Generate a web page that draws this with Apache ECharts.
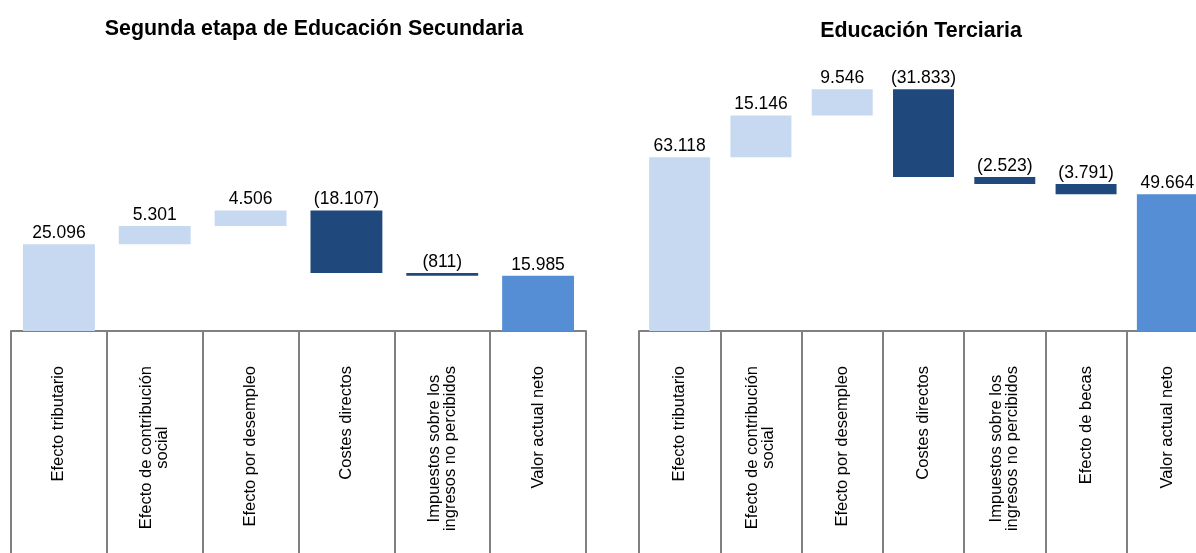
<!DOCTYPE html>
<html>
<head>
<meta charset="utf-8">
<title>Valor actual neto</title>
<script src="https://cdn.jsdelivr.net/npm/echarts@6/dist/echarts.min.js"></script>
<style>
	html, body { margin: 0; padding: 0; background: #fff; }
	#main { width: 1196px; height: 553px; }
</style>
</head>
<body>
<div id="main"></div>
<script>
var fontName = "'Liberation Sans', Arial, sans-serif";
var gray = '#808080';
var lightBlue = '#C6D9F0'; // aportaciones positivas
var darkBlue = '#1F497D'; // costes
var midBlue = '#558ED5'; // valor actual neto

// Segunda etapa de Educación Secundaria
var secCategories = ['Efecto tributario', 'Efecto de contribución\nsocial', 'Efecto por desempleo',
	'Costes directos', 'Impuestos sobre los\ningresos no percibidos', 'Valor actual neto'];
var secValues = [25096, 5301, 4506, -18107, -811, 15985];

// Educación Terciaria
var terCategories = ['Efecto tributario', 'Efecto de contribución\nsocial', 'Efecto por desempleo',
	'Costes directos', 'Impuestos sobre los\ningresos no percibidos', 'Efecto de becas', 'Valor actual neto'];
var terValues = [63118, 15146, 9546, -31833, -2523, -3791, 49664];

// 25096 -> "25.096", -811 -> "(811)"
function fmt(v) {
	var s = String(Math.abs(v)).replace(/\B(?=(\d{3})+(?!\d))/g, '.');
	return v < 0 ? '(' + s + ')' : s;
}

// serie invisible de base + serie visible (cascada)
function waterfall(values) {
	var base = [];
	var bars = [];
	var acc = 0;
	for(var i = 0; i < values.length; i++) {
		var v = values[i] / 1000;
		var last = i == values.length - 1;
		var color = last ? midBlue : (v < 0 ? darkBlue : lightBlue);
		if(i == 0 || last) {
			base.push(0);
			acc = v;
		} else {
			base.push(v < 0 ? acc + v : acc);
			acc += v;
		}
		bars.push({ value: Math.abs(v), raw: values[i], itemStyle: { color: color } });
	}
	return { base: base, bars: bars };
}

var sec = waterfall(secValues);
var ter = waterfall(terValues);

function catAxis(gridIndex, data) {
	return {
		type: 'category',
		gridIndex: gridIndex,
		data: data,
		axisLine: { lineStyle: { color: gray, width: 2 } },
		axisTick: { show: true, interval: 0, length: 230, lineStyle: { color: gray, width: 2 } },
		axisLabel: {
			interval: 0,
			rotate: 90,
			margin: 35,
			color: '#000',
			fontFamily: fontName,
			fontSize: 16.5,
			formatter: function(value) {
				return value.split('\n').map(function(l) { return '{c|' + l + '}'; }).join('\n');
			},
			rich: {
				c: { align: 'center', fontSize: 16.5, lineHeight: 16, fontFamily: fontName, color: '#000' }
			}
		}
	};
}

function barSeries(idx, wf) {
	return [{
		type: 'bar',
		xAxisIndex: idx,
		yAxisIndex: idx,
		stack: 's' + idx,
		barWidth: '75%',
		silent: true,
		itemStyle: { color: 'transparent' },
		data: wf.base
	}, {
		type: 'bar',
		xAxisIndex: idx,
		yAxisIndex: idx,
		stack: 's' + idx,
		barWidth: '75%',
		label: {
			show: true,
			position: 'top',
			distance: 2,
			color: '#000',
			fontFamily: fontName,
			fontSize: 17.5,
			formatter: function(p) { return fmt(p.data.raw); }
		},
		data: wf.bars
	}];
}

var option = {
	animation: false,
	title: [{
		text: 'Segunda etapa de Educación Secundaria',
		left: 309,
		top: 14,
		textAlign: 'center',
		textStyle: { fontFamily: fontName, fontSize: 21.4, fontWeight: 'bold', color: '#000' }
	}, {
		text: 'Educación Terciaria',
		left: 916,
		top: 16,
		textAlign: 'center',
		textStyle: { fontFamily: fontName, fontSize: 21.4, fontWeight: 'bold', color: '#000' }
	}],
	grid: [
		{ left: 11, width: 575, top: 54.6, height: 276.4, outerBoundsMode: 'none' },
		{ left: 639, width: 569, top: 55.8, height: 275.2, outerBoundsMode: 'none' } // sale del lienzo por la derecha
	],
	xAxis: [catAxis(0, secCategories), catAxis(1, terCategories)],
	yAxis: [
		{ type: 'value', gridIndex: 0, min: 0, max: 80, show: false },
		{ type: 'value', gridIndex: 1, min: 0, max: 100, show: false }
	],
	series: barSeries(0, sec).concat(barSeries(1, ter))
};

var chart = echarts.init(document.getElementById('main'));
chart.setOption(option);
</script>
</body>
</html>
